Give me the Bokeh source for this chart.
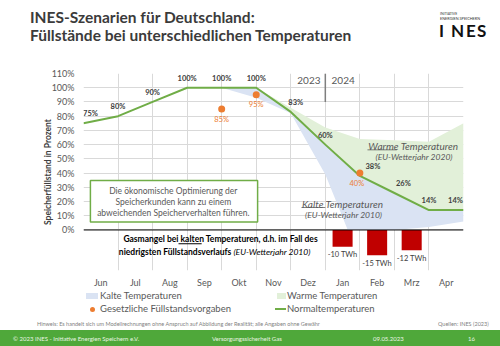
from bokeh.plotting import figure
from bokeh.models import (Range1d, FixedTicker, Label, LabelSet, ColumnDataSource,
                          Span, BoxAnnotation, Div)
from bokeh.layouts import column
from bokeh.core.properties import value
from bokeh.embed import file_html
from bokeh.resources import INLINE

# ---------------- data ----------------
months = ["Jun", "Jul", "Aug", "Sep", "Okt", "Nov", "Dez", "Jan", "Feb", "Mrz", "Apr"]
# positions in months from 1 Jun 2023 (0) to 1 May 2024 (11)
normal_pos = [0, 1, 2, 3, 4, 5, 6, 7, 8, 9, 10, 11]
normal_pct = [75, 80, 90, 100, 100, 100, 83, 60, 38, 26, 14, 14]
warm_pos = [5, 6, 7, 8, 9, 10, 11]
warm_pct = [100, 86, 72, 64, 63, 62, 75]
cold_pos = [4, 5, 6, 7, 7.65, 9, 10, 11]
cold_pct = [100, 93, 82, 39, 0, 0, 2, 6]
target_pos = [4, 5, 8]
target_pct = [85, 95, 40]
shortage_months = ["Jan", "Feb", "Mrz"]
shortage_twh = [-10, -15, -12]
y_ticks = [0, 10, 20, 30, 40, 50, 60, 70, 80, 90, 100, 110]
y_min, y_max = -28.5, 110
pct_per_twh = 1.183
legend_labels = ["Kalte Temperaturen", "Warme Temperaturen",
                 "Gesetzliche Füllstandsvorgaben", "Normaltemperaturen"]

# ---------------- style ----------------
FONT = "Lato"
GRAY = "#595959"
DARK = "#404040"
GREEN = "#70AD47"
ORANGE = "#ED7D31"
RED = "#C00000"
WARM_FILL = "#E2F0D9"
COLD_FILL = "#DAE3F3"
GRID = "#D9D9D9"

W = 500
TOP_H, FIG_H, BOT_H = 50, 240, 56
FL, FR = 83, 463           # frame left/right (page px)
FT, FB = 73, 272           # frame top/bottom (page px)

p = figure(width=W, height=FIG_H, output_backend="svg", toolbar_location=None,
           x_range=Range1d(0, len(months)), y_range=Range1d(y_min, y_max),
           min_border_left=FL, min_border_right=W - FR,
           min_border_top=FT - TOP_H, min_border_bottom=TOP_H + FIG_H - FB)
p.outline_line_color = None
p.border_fill_color = "white"
p.background_fill_color = "white"
p.extra_y_ranges = {"twh": Range1d(y_min / pct_per_twh, y_max / pct_per_twh)}

# axes
xa = p.xaxis[0]
xa.ticker = FixedTicker(ticks=[i + 0.5 for i in range(len(months))])
xa.major_label_overrides = {i + 0.5: m for i, m in enumerate(months)}
ya = p.yaxis[0]
ya.ticker = FixedTicker(ticks=y_ticks)
ya.major_label_overrides = {t: f"{t}%" for t in y_ticks}
ya.bounds = (y_ticks[0], y_ticks[-1])
ya.axis_label = "Speicherfüllstand in Prozent"
ya.axis_label_text_font = FONT
ya.axis_label_text_font_size = "8.5px"
ya.axis_label_text_font_style = "bold"
ya.axis_label_text_color = DARK
ya.axis_label_standoff = -4
for ax in (xa, ya):
    ax.axis_line_color = None
    ax.major_tick_line_color = None
    ax.minor_tick_line_color = None
    ax.major_tick_out = 0
    ax.major_tick_in = 0
    ax.minor_tick_out = 0
    ax.major_label_text_font = FONT
    ax.major_label_text_font_size = "9px"
    ax.major_label_text_color = GRAY
xa.major_label_standoff = 6
ya.major_label_standoff = 9

p.xgrid.ticker = FixedTicker(ticks=list(range(len(months) + 1)))
p.ygrid.ticker = FixedTicker(ticks=y_ticks)
p.grid.grid_line_color = GRID
p.grid.grid_line_width = 1

# areas
warm_base = [normal_pct[normal_pos.index(x)] for x in warm_pos]
warm = p.varea(x=warm_pos, y1=warm_base, y2=warm_pct, fill_color=WARM_FILL)
i0 = normal_pos.index(cold_pos[0])
cold_xs = normal_pos[i0:] + cold_pos[::-1]
cold_ys = normal_pct[i0:] + cold_pct[::-1]
cold = p.patch(x=cold_xs, y=cold_ys, fill_color=COLD_FILL, line_color=None)

p.add_layout(Span(location=0, dimension="width", line_color="black", line_width=1))

# bars
bar_x = [months.index(m) + 0.5 for m in shortage_months]
p.vbar(x=bar_x, top=shortage_twh, bottom=0, width=0.58, fill_color=RED,
       line_color=None, y_range_name="twh")

normal = p.line(normal_pos, normal_pct, line_color=GREEN, line_width=2)
targets = p.scatter(target_pos, target_pct, size=7, fill_color=ORANGE, line_color=None)

# year divider
p.segment(x0=[7], y0=[90], x1=[7], y1=[110], line_color="#7F7F7F", line_width=1.5)

# data labels
label_dx = [7, 0, 0, 0, 0, 0, 5, 0, 13, 9, 0, -8]
src_n = ColumnDataSource(dict(x=normal_pos, y=normal_pct,
                              t=[f"{v}%" for v in normal_pct], dx=label_dx))
p.add_layout(LabelSet(x="x", y="y", text="t", source=src_n, x_offset="dx", y_offset=9.5,
                      text_align="center", text_baseline="middle", text_font=value(FONT),
                      text_font_size="7.5px", text_font_style="bold", text_color=DARK))
target_dx = [0, 0, -3]
src_t = ColumnDataSource(dict(x=target_pos, y=target_pct,
                              t=[f"{v}%" for v in target_pct], dx=target_dx))
p.add_layout(LabelSet(x="x", y="y", text="t", source=src_t, x_offset="dx", y_offset=-10,
                      text_align="center", text_baseline="middle", text_font=value(FONT),
                      text_font_size="7.5px", text_color=ORANGE))
src_b = ColumnDataSource(dict(x=bar_x, y=shortage_twh,
                              t=[f"{v} TWh" for v in shortage_twh]))
p.add_layout(LabelSet(x="x", y="y", text="t", source=src_b, y_range_name="twh", y_offset=-8,
                      text_align="center", text_baseline="middle", text_font=value(FONT),
                      text_font_size="7.5px", text_color=DARK))


def lab(text, x, y, size, color=DARK, style="normal", align="left"):
    p.add_layout(Label(x=x, y=y, text=text, text_font=FONT, text_font_size=size,
                       text_color=color, text_font_style=style, text_align=align,
                       text_baseline="middle"))


# year labels
lab("2023", 6.86, 105.2, "10px", GRAY, align="right")
lab("2024", 7.18, 105.2, "10px", GRAY, align="left")

# scenario annotations
lab("Warme Temperaturen", 9.55, 59.2, "10px", GRAY, "italic", "center")
lab("(EU-Wetterjahr 2020)", 9.57, 51.5, "8.5px", GRAY, "italic", "center")
lab("Kalte Temperaturen", 7.5, 18.1, "10px", GRAY, "italic", "center")
lab("(EU-Wetterjahr 2010)", 7.53, 10.4, "8.5px", GRAY, "italic", "center")
p.add_layout(BoxAnnotation(left=8.22, right=9.07, bottom=56.0, top=56.6,
                           fill_color=GRAY, fill_alpha=1, line_color=None))
p.add_layout(BoxAnnotation(left=6.31, right=7.0, bottom=15.6, top=16.2,
                           fill_color=GRAY, fill_alpha=1, line_color=None))

# text box
p.add_layout(BoxAnnotation(left=0.2, right=5.04, bottom=5.6, top=34.8,
                           fill_color="white", fill_alpha=1,
                           line_color=GREEN, line_width=1.5, line_alpha=1))
lab("Die ökonomische Optimierung der", 2.6, 27.2, "8.5px", GRAY, align="center")
lab("Speicherkunden kann zu einem", 2.6, 19.5, "8.5px", GRAY, align="center")
lab("abweichenden Speicherverhalten führen.", 2.6, 11.8, "8.5px", GRAY, align="center")

# shortage caption
lab("Gasmangel bei kalten Temperaturen, d.h. im Fall des", 3.97, -6.3, "8.5px",
    "black", "bold", "center")
lab("niedrigsten Füllstandsverlaufs", 4.28, -15.3, "8.5px", "black", "bold", "right")
lab("(EU-Wetterjahr 2010)", 4.34, -15.3, "8.5px", "black", "italic", "left")
p.add_layout(BoxAnnotation(left=2.75, right=3.42, bottom=-10.0, top=-9.4,
                           fill_color="black", fill_alpha=1, line_color=None))


# ---------------- header / legend / footer (HTML) ----------------
def span(text, left, top, size, color, weight="normal", lh=None, extra=""):
    lh = lh or size + 2
    return (f'<div style="position:absolute;left:{left}px;top:{top}px;font-size:{size}px;'
            f'line-height:{lh}px;font-weight:{weight};color:{color};white-space:nowrap;{extra}">'
            f'{text}</div>')


def box(left, top, w, h, color, radius=0):
    return (f'<div style="position:absolute;left:{left}px;top:{top}px;width:{w}px;'
            f'height:{h}px;background:{color};border-radius:{radius}px;"></div>')


top_html = ('<div style="position:relative;width:500px;height:50px;overflow:hidden;'
            'font-family:Lato,sans-serif;background:white;">'
            + span("INES-Szenarien für Deutschland:", 30, 8, 15.5, "#3B3B3B", "bold", 18)
            + span("Füllstände bei unterschiedlichen Temperaturen", 30, 26, 15.5, "#3B3B3B",
                   "bold", 18)
            + span("INITIATIVE", 440, 12, 3.5, "#333333", lh=4)
            + span("ENERGIEN SPEICHERN", 440, 16.5, 3.8, "#333333", lh=4)
            + span("I", 439, 21, 17, "#111111", "bold", 19)
            + span("N", 451, 21, 17, "#111111", "bold", 19)
            + span("E", 466, 21, 17, "#111111", "bold", 19)
            + span("S", 477, 21, 17, "#111111", "bold", 19)
            + '</div>')
top_div = Div(text=top_html, width=W, height=TOP_H, margin=0)

LEG = 9.5
bot_html = ('<div style="position:relative;width:500px;height:56px;overflow:hidden;'
            'font-family:Lato,sans-serif;background:white;">'
            + box(86, 3, 12, 6, COLD_FILL)
            + span(legend_labels[0], 100, 0, LEG, GRAY, lh=11)
            + box(277, 3, 9, 6, WARM_FILL)
            + span(legend_labels[1], 287, 0, LEG, GRAY, lh=11)
            + box(89.5, 16.5, 5, 5, ORANGE, 3)
            + span(legend_labels[2], 100, 13, LEG, GRAY, lh=11)
            + box(275, 18, 11, 2, GREEN)
            + span(legend_labels[3], 287, 13, LEG, GRAY, lh=11)
            + span("Hinweis: Es handelt sich um Modellrechnungen ohne Anspruch auf Abbildung "
                   "der Realität; alle Angaben ohne Gewähr", 37, 30.5, 5.5, "#7F7F7F", lh=7)
            + span("Quellen: INES (2023)", 438, 30.5, 5.5, "#7F7F7F", lh=7)
            + box(0, 40, 500, 16, "#4FA83A")
            + span("© 2023 INES - Initiative Energien Speichern e.V.", 13, 44.5, 6, "#EAF5E4",
                   lh=8)
            + span("Versorgungssicherheit Gas", 212, 44.5, 6, "#EAF5E4", lh=8)
            + span("09.05.2023", 373, 44.5, 6, "#EAF5E4", lh=8)
            + span("16", 468, 44.5, 6, "#EAF5E4", lh=8)
            + '</div>')
bot_div = Div(text=bot_html, width=W, height=BOT_H, margin=0)

page = column(top_div, p, bot_div, spacing=0)
open("out.html", "w").write(file_html(page, INLINE))
